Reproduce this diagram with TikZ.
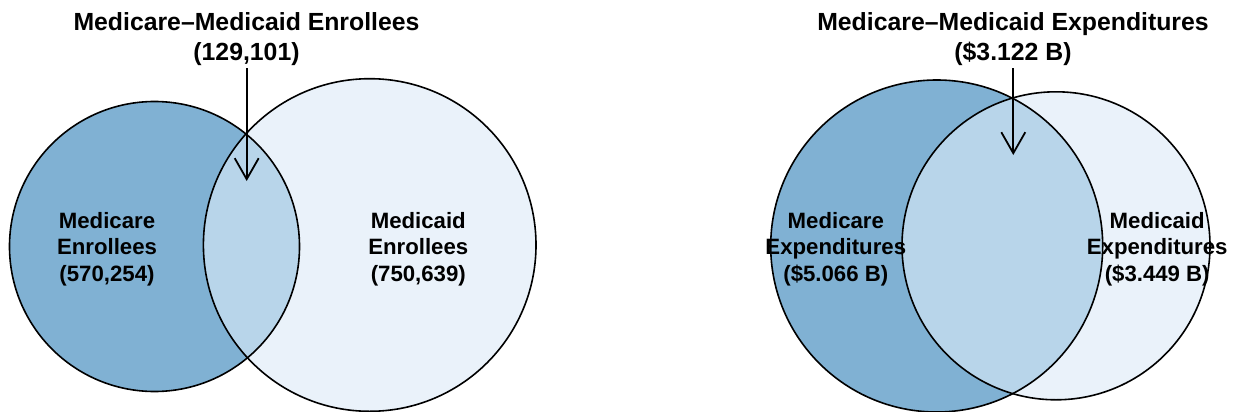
\documentclass[tikz,border=0pt]{standalone}
\usepackage{fontspec}
\setmainfont{Liberation Sans}
\usetikzlibrary{arrows.meta}
\definecolor{vdark}{HTML}{80B1D3}
\definecolor{vmid}{HTML}{B8D5EA}
\definecolor{vlight}{HTML}{EAF2FA}
\tikzset{
  ring/.style={draw=black,line width=0.8pt},
  titletext/.style={align=center,inner sep=0pt,font=\bfseries\fontsize{12.4}{15}\selectfont},
  labeltext/.style={align=center,inner sep=0pt,font=\bfseries\fontsize{11.1}{13.3}\selectfont},
  pointer/.style={line width=0.9pt,-{Straight Barb[length=10.5pt,width=12pt,line width=0.9pt]}}
}
\begin{document}
\begin{tikzpicture}[x=0.5pt,y=-0.5pt]
\useasboundingbox (0,0) rectangle (1236,412);
% ---------- left diagram ----------
\coordinate (cA) at (154.5,246.5);
\coordinate (cB) at (369.7,245);
\fill[vdark] (cA) circle[radius=145];
\fill[vlight] (cB) circle[radius=166.3];
\begin{scope}
  \clip (cA) circle[radius=145];
  \fill[vmid] (cB) circle[radius=166.3];
\end{scope}
\draw[ring] (cA) circle[radius=145];
\draw[ring] (cB) circle[radius=166.3];
\node[titletext] (titleL) at (246.5,39) {Medicare\textendash Medicaid Enrollees\\(129,101)};
\node[labeltext] (labA) at (107,249) {Medicare\\Enrollees\\(570,254)};
\node[labeltext] (labB) at (418.3,249) {Medicaid\\Enrollees\\(750,639)};
\coordinate (startL) at (246.7,68);
\coordinate (tipL) at (246.7,181);
\draw[pointer] (startL) -- (tipL);
% ---------- right diagram ----------
\coordinate (cC) at (936.7,246);
\coordinate (cD) at (1056,245.8);
\fill[vdark] (cC) circle[radius=166];
\fill[vlight] (cD) circle[radius=154];
\begin{scope}
  \clip (cC) circle[radius=166];
  \fill[vmid] (cD) circle[radius=154];
\end{scope}
\draw[ring] (cC) circle[radius=166];
\draw[ring] (cD) circle[radius=154];
\node[titletext] (titleR) at (1013,39) {Medicare\textendash Medicaid Expenditures\\(\$3.122 B)};
\node[labeltext] (labC) at (835.8,249) {Medicare\\Expenditures\\(\$5.066 B)};
\node[labeltext] (labD) at (1157.2,249) {Medicaid\\Expenditures\\(\$3.449 B)};
\coordinate (startR) at (1013.3,68);
\coordinate (tipR) at (1013.3,155);
\draw[pointer] (startR) -- (tipR);
\end{tikzpicture}
\end{document}
